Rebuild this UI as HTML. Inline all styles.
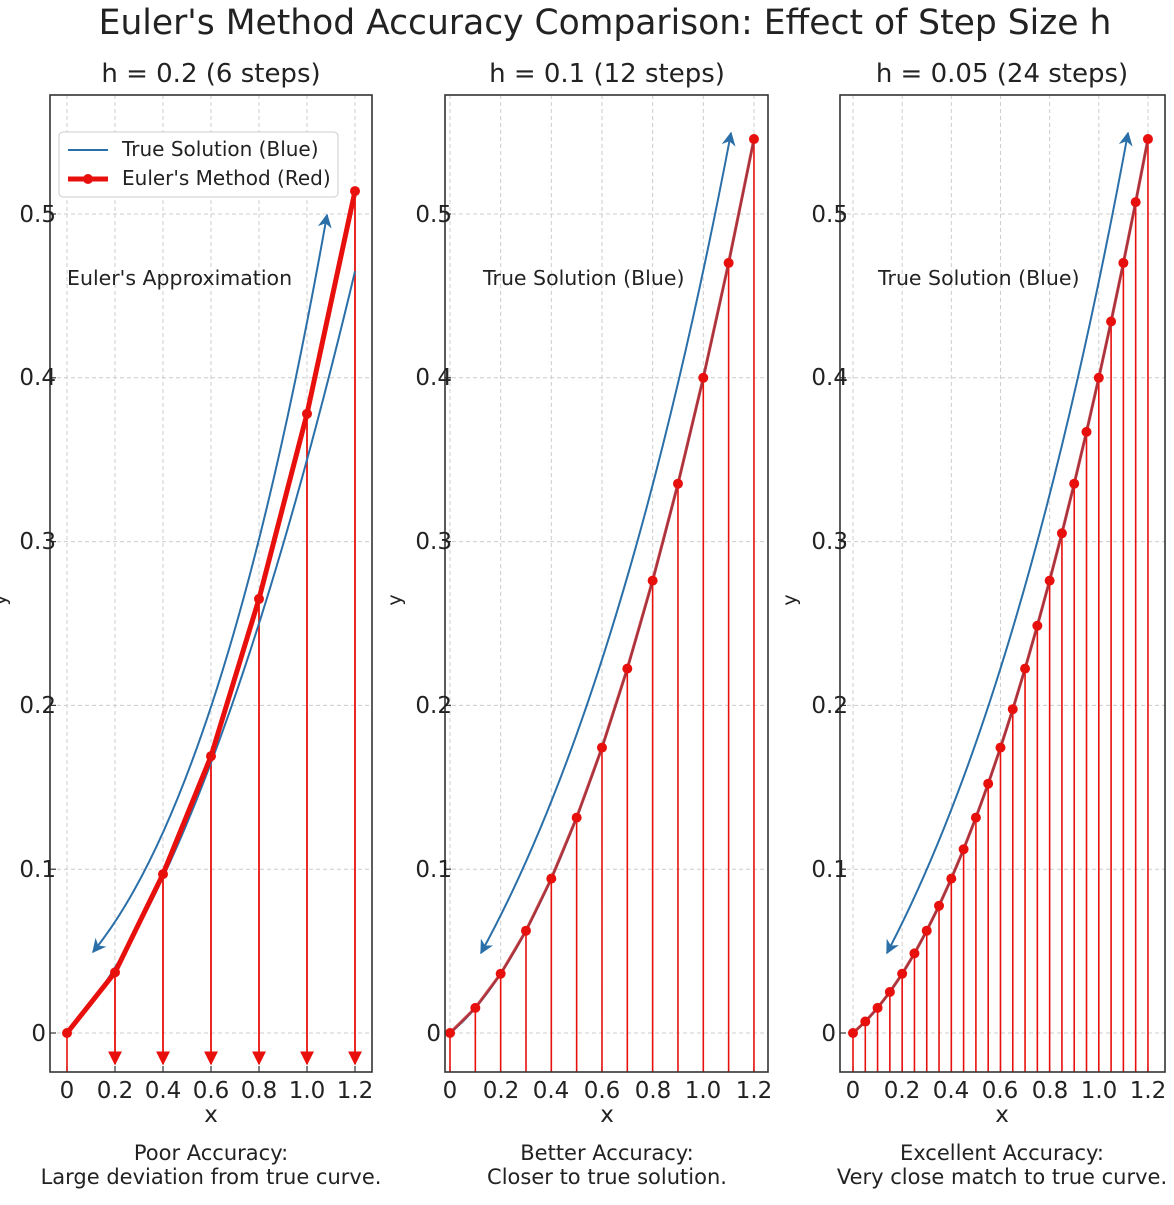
<!DOCTYPE html>
<html><head><meta charset="utf-8"><style>
body{margin:0;background:#fff;}
svg text{font-family:"DejaVu Sans","Liberation Sans",sans-serif;fill:#222;}
</style></head><body>
<svg id="s" width="1174" height="1200" xmlns="http://www.w3.org/2000/svg">
<defs>
<marker id="ra" viewBox="0 0 10 10" refX="9" refY="5" markerWidth="14" markerHeight="14" orient="auto" markerUnits="userSpaceOnUse"><path d="M0,0 L10,5 L0,10 z" fill="#e8100c"/></marker>
<marker id="ba" viewBox="0 0 10 10" refX="9" refY="5" markerWidth="14" markerHeight="14" orient="auto-start-reverse" markerUnits="userSpaceOnUse"><path d="M0,0 L10,5 L0,10 L3,5 z" fill="#2a6fa8"/></marker>
</defs>
<text x="605" y="34" font-size="34.5" text-anchor="middle">Euler's Method Accuracy Comparison: Effect of Step Size h</text>
<text x="211" y="82" font-size="26" text-anchor="middle">h = 0.2 (6 steps)</text>
<text x="607" y="82" font-size="26" text-anchor="middle">h = 0.1 (12 steps)</text>
<text x="1002" y="82" font-size="26" text-anchor="middle">h = 0.05 (24 steps)</text>
<g id="g"></g>
<g font-size="23" text-anchor="end">
<text x="46" y="1041">0</text><text x="56" y="877">0.1</text><text x="56" y="713">0.2</text><text x="56" y="549">0.3</text><text x="56" y="385">0.4</text><text x="56" y="222">0.5</text>
<text x="441" y="1041">0</text><text x="452" y="877">0.1</text><text x="452" y="713">0.2</text><text x="452" y="549">0.3</text><text x="452" y="385">0.4</text><text x="452" y="222">0.5</text>
<text x="836" y="1041">0</text><text x="848" y="877">0.1</text><text x="848" y="713">0.2</text><text x="848" y="549">0.3</text><text x="848" y="385">0.4</text><text x="848" y="222">0.5</text>
</g>
<g font-size="23" text-anchor="middle">
<text x="67" y="1098">0</text><text x="115" y="1098">0.2</text><text x="163" y="1098">0.4</text><text x="211" y="1098">0.6</text><text x="259" y="1098">0.8</text><text x="307" y="1098">1.0</text><text x="355" y="1098">1.2</text>
<text x="450" y="1098">0</text><text x="501" y="1098">0.2</text><text x="551" y="1098">0.4</text><text x="602" y="1098">0.6</text><text x="653" y="1098">0.8</text><text x="703" y="1098">1.0</text><text x="754" y="1098">1.2</text>
<text x="853" y="1098">0</text><text x="902" y="1098">0.2</text><text x="951" y="1098">0.4</text><text x="1000" y="1098">0.6</text><text x="1050" y="1098">0.8</text><text x="1099" y="1098">1.0</text><text x="1148" y="1098">1.2</text>
<text x="211" y="1122">x</text><text x="607" y="1122">x</text><text x="1002" y="1122">x</text>
</g>
<g font-size="21" text-anchor="middle">
<text x="211" y="1160">Poor Accuracy:</text><text x="211" y="1184">Large deviation from true curve.</text>
<text x="607" y="1160">Better Accuracy:</text><text x="607" y="1184">Closer to true solution.</text>
<text x="1002" y="1160">Excellent Accuracy:</text><text x="1002" y="1184">Very close match to true curve.</text>
</g>
<text font-size="19" transform="translate(6,600) rotate(-90)" text-anchor="middle">y</text>
<text font-size="19" transform="translate(401,600) rotate(-90)" text-anchor="middle">y</text>
<text font-size="19" transform="translate(796,600) rotate(-90)" text-anchor="middle">y</text>
<g font-size="20.5">
<text x="67" y="285">Euler's Approximation</text>
<text x="483" y="285">True Solution (Blue)</text>
<text x="878" y="285">True Solution (Blue)</text>
</g>
<rect x="59" y="132" width="279" height="65" rx="4" fill="#fff" stroke="#ccc"/>
<line x1="68" y1="150" x2="108" y2="150" stroke="#2a6fa8" stroke-width="2"/>
<line x1="68" y1="179" x2="108" y2="179" stroke="#e8100c" stroke-width="5"/>
<circle cx="88" cy="179" r="5" fill="#e8100c"/>
<g font-size="20"><text x="122" y="156">True Solution (Blue)</text><text x="122" y="185">Euler's Method (Red)</text></g>
</svg>
<script>
var NS="http://www.w3.org/2000/svg",G=document.getElementById("g");
function el(t,a){var e=document.createElementNS(NS,t);for(var k in a)e.setAttribute(k,a[k]);G.appendChild(e);return e;}
var Y0=1033,SY=1638,TOP=95,BOT=1072;
function f(x){return 0.126*x+0.274*x*x;}
var P=[
 {l:50,r:372,x0:67,sx:240,h:0.2,pts:[0,0.037,0.097,0.169,0.265,0.378,0.514],
  tr:function(x){return 0.1625*x+0.1875*x*x;},arrow:"M93,952 Q225,790 327,215",thick:5,stemArrow:true},
 {l:445,r:768,x0:450,sx:253.3,h:0.1,pts:null,tr:f,arrow:"M481,953 Q625,690 731,133",thick:3},
 {l:840,r:1165,x0:853,sx:245.8,h:0.05,pts:null,tr:f,arrow:"M887,953 Q1025,690 1128,133",thick:3}
];
P.forEach(function(p){
 var X=function(x){return p.x0+x*p.sx;},Yp=function(y){return Y0-y*SY;};
 el("rect",{x:p.l,y:TOP,width:p.r-p.l,height:BOT-TOP,fill:"#fff"});
 for(var i=0;i<=6;i++){var gx=X(i*0.2);el("line",{x1:gx,y1:TOP,x2:gx,y2:BOT,stroke:"#ccc","stroke-dasharray":"4,3","stroke-width":1});
  el("line",{x1:gx,y1:BOT,x2:gx,y2:BOT-6,stroke:"#333","stroke-width":1.2});}
 for(var j=0;j<=5;j++){var gy=Yp(j*0.1);el("line",{x1:p.l,y1:gy,x2:p.r,y2:gy,stroke:"#ccc","stroke-dasharray":"4,3","stroke-width":1});
  el("line",{x1:p.l,y1:gy,x2:p.l+6,y2:gy,stroke:"#333","stroke-width":1.2});}
 var n=Math.round(1.2/p.h),pts=[];
 for(var k=0;k<=n;k++){var x=k*p.h;pts.push([X(x),Yp(p.pts?p.pts[k]:f(x))]);}
 var d="";for(var t=0;t<=120;t++){var x=t/100;d+=(t?"L":"M")+X(x).toFixed(1)+","+Yp(p.tr(x)).toFixed(1);}
 pts.forEach(function(q,k){
  if(p.stemArrow && k>0) el("line",{x1:q[0],y1:q[1],x2:q[0],y2:1064,stroke:"#e8100c","stroke-width":1.8,"marker-end":"url(#ra)"});
  else el("line",{x1:q[0],y1:q[1],x2:q[0],y2:BOT,stroke:"#e8100c","stroke-width":1.6});
 });
 el("path",{d:d,fill:"none",stroke:"#2a6fa8","stroke-width":2});
 el("path",{d:"M"+pts.map(function(q){return q[0].toFixed(1)+","+q[1].toFixed(1)}).join("L"),fill:"none",stroke:p.stemArrow?"#e8100c":"#c0282a","stroke-width":p.thick,"stroke-opacity":p.stemArrow?1:0.85});
 pts.forEach(function(q){el("circle",{cx:q[0],cy:q[1],r:5,fill:"#e8100c"});});
 el("path",{d:p.arrow,fill:"none",stroke:"#2a6fa8","stroke-width":2,"marker-start":"url(#ba)","marker-end":"url(#ba)"});
 el("rect",{x:p.l,y:TOP,width:p.r-p.l,height:BOT-TOP,fill:"none",stroke:"#333","stroke-width":1.6});
});
</script>
</body></html>
